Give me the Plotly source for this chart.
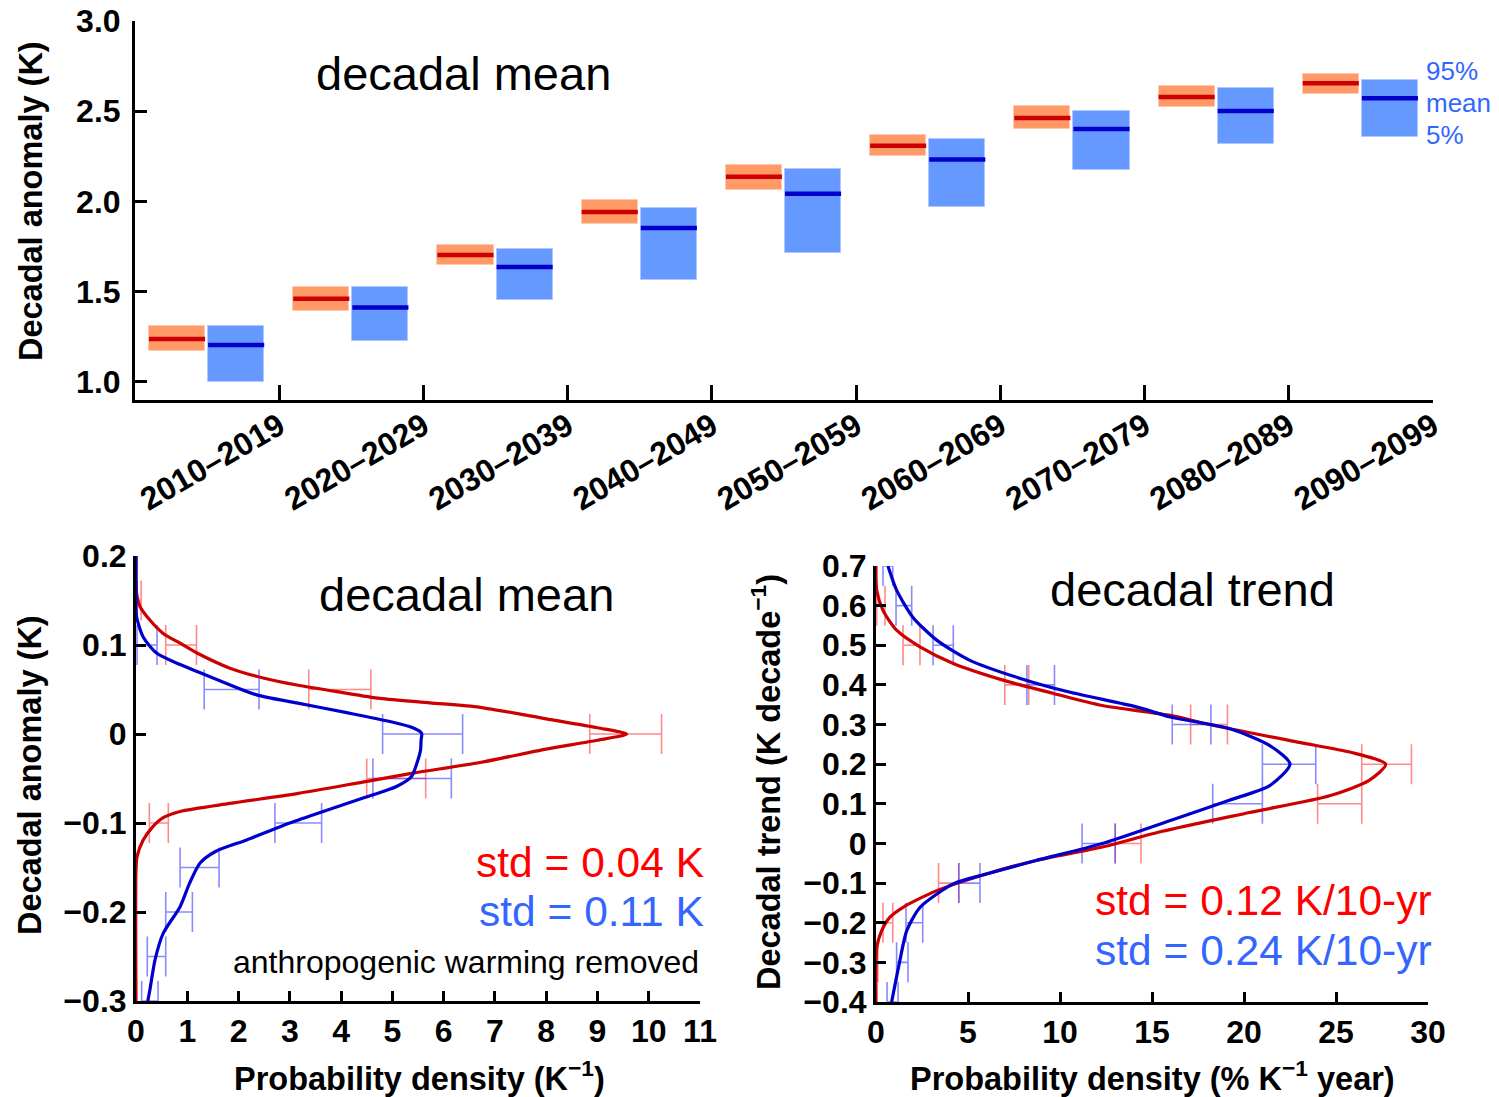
import plotly.graph_objects as go

W, H = 1499, 1097
FONT = "Liberation Sans, Arial, Helvetica, sans-serif"

# ---------------- decadal mean projections (top panel) ----------------
decades = ["2010–2019", "2020–2029", "2030–2039", "2040–2049", "2050–2059",
           "2060–2069", "2070–2079", "2080–2089", "2090–2099"]
forced_p95 = [1.310, 1.528, 1.759, 2.008, 2.202, 2.367, 2.529, 2.640, 2.706]
forced_mean = [1.238, 1.461, 1.704, 1.942, 2.137, 2.309, 2.463, 2.579, 2.655]
forced_p5 = [1.172, 1.395, 1.648, 1.875, 2.062, 2.254, 2.402, 2.524, 2.594]
total_p95 = [1.310, 1.525, 1.737, 1.964, 2.178, 2.346, 2.501, 2.629, 2.673]
total_mean = [1.205, 1.412, 1.637, 1.853, 2.043, 2.232, 2.402, 2.501, 2.572]
total_p5 = [1.000, 1.227, 1.454, 1.565, 1.716, 1.970, 2.175, 2.319, 2.356]

# ---------------- decadal mean PDFs (bottom left) ----------------
mean_red_y = [0.20, 0.17, 0.155, 0.143, 0.128, 0.113, 0.102, 0.091, 0.074, 0.063, 0.055,
              0.047, 0.040, 0.035, 0.030, 0.017, 0.007, 0.0, -0.007, -0.017, -0.032,
              -0.044, -0.054, -0.067, -0.078, -0.087, -0.094, -0.104, -0.119, -0.138,
              -0.153, -0.30]
mean_red_pdf = [0.0, 0.0, 0.02, 0.08, 0.27, 0.53, 0.86, 1.19, 1.83, 2.48, 3.14,
                3.98, 4.76, 5.73, 6.71, 8.0, 9.0, 9.57, 9.0, 8.0, 6.71,
                5.40, 4.42, 3.14, 1.83, 0.86, 0.53, 0.33, 0.14, 0.02,
                0.0, 0.0]
mean_blue_y = [0.20, 0.17, 0.145, 0.132, 0.109, 0.091, 0.078, 0.063, 0.044, 0.035, 0.024,
               0.014, 0.007, 0.001, -0.007, -0.018, -0.029, -0.048, -0.059, -0.072,
               -0.087, -0.100, -0.119, -0.132, -0.145, -0.167, -0.194, -0.224, -0.254,
               -0.288, -0.30]
mean_blue_pdf = [0.0, 0.0, 0.0, 0.01, 0.14, 0.40, 0.86, 1.50, 2.35, 3.13, 4.11,
                 4.95, 5.40, 5.57, 5.56, 5.55, 5.50, 5.37, 5.08, 4.43,
                 3.65, 3.0, 2.16, 1.55, 1.25, 1.05, 0.86, 0.53, 0.37,
                 0.27, 0.23]
mean_red_bar_y = [0.15, 0.10, 0.05, 0.0, -0.05, -0.10]
mean_red_bar_lo = [0.02, 0.58, 3.37, 8.85, 4.50, 0.26]
mean_red_bar_hi = [0.10, 1.18, 4.58, 10.25, 5.65, 0.63]
mean_blue_bar_y = [0.10, 0.05, 0.0, -0.05, -0.10, -0.15, -0.20, -0.25, -0.30]
mean_blue_bar_lo = [0.02, 1.33, 4.81, 4.62, 2.71, 0.86, 0.58, 0.22, 0.11]
mean_blue_bar_hi = [0.41, 2.40, 6.37, 6.15, 3.62, 1.62, 1.10, 0.58, 0.43]

# ---------------- decadal trend PDFs (bottom right) ----------------
trend_red_y = [0.70, 0.639, 0.588, 0.538, 0.496, 0.454, 0.412, 0.379, 0.348, 0.323,
               0.30, 0.255, 0.23, 0.20, 0.159, 0.121, 0.078, 0.03, -0.009, -0.043,
               -0.077, -0.119, -0.161, -0.186, -0.22, -0.262, -0.31, -0.40]
trend_red_pdf = [0.0, 0.04, 0.38, 1.12, 2.39, 4.2, 6.9, 9.6, 12.3, 16.0,
                 18.1, 23.0, 25.8, 27.7, 26.8, 24.7, 20.3, 15.5, 12.3, 8.7,
                 6.0, 3.3, 1.47, 0.76, 0.31, 0.04, 0.0, 0.0]
trend_blue_y = [0.70, 0.639, 0.571, 0.513, 0.462, 0.417, 0.382, 0.344, 0.319, 0.29,
                0.247, 0.20, 0.146, 0.109, 0.058, 0.0, -0.043, -0.077, -0.102, -0.161,
                -0.22, -0.295, -0.40]
trend_blue_pdf = [0.65, 1.12, 2.0, 3.3, 5.1, 7.8, 10.5, 14.2, 16.0, 19.2,
                  21.4, 22.5, 21.4, 19.2, 16.0, 12.3, 8.7, 6.0, 4.2, 2.4,
                  1.67, 1.3, 0.85]
trend_red_bar_y = [0.6, 0.5, 0.4, 0.3, 0.2, 0.1, 0.0, -0.1, -0.2, -0.3]
trend_red_bar_lo = [0.04, 1.47, 7.0, 17.1, 26.4, 24.0, 13.0, 3.4, 0.38, 0.0]
trend_red_bar_hi = [0.49, 2.39, 8.3, 19.1, 29.1, 26.4, 14.4, 4.5, 0.91, 0.1]
trend_blue_bar_y = [0.7, 0.6, 0.5, 0.4, 0.3, 0.2, 0.1, 0.0, -0.1, -0.2, -0.3, -0.4]
trend_blue_bar_lo = [0.38, 1.09, 3.1, 8.2, 16.1, 21.0, 18.3, 11.2, 4.5, 1.63, 1.12, 0.6]
trend_blue_bar_hi = [0.91, 1.94, 4.2, 9.7, 18.2, 23.9, 21.0, 13.0, 5.65, 2.54, 1.74, 1.2]

RED_LINE = "#cc0000"
BLUE_LINE = "#0000cc"
ORANGE_FILL = "#ff9966"
BLUE_FILL = "#6699ff"
RED_TEXT = "#ff0000"
BLUE_TEXT = "#3366ff"
RED_BAR = "rgba(255,60,60,0.6)"
BLUE_BAR = "rgba(60,60,255,0.6)"


def fx(px):
    return px / W


def fy(py):
    return 1 - py / H


fig = go.Figure()

# ---- top panel: 5-95% boxes and means ----
n = len(decades)
slot = list(range(n))
left_lo, left_hi = 0.097, 0.486
right_lo, right_hi = 0.507, 0.896
fig.add_trace(go.Bar(
    x=[i + (left_lo + left_hi) / 2 for i in slot],
    y=[h - l for h, l in zip(forced_p95, forced_p5)], base=forced_p5,
    width=left_hi - left_lo, marker=dict(color=ORANGE_FILL, line=dict(color="#ffc8b0", width=1)),
    xaxis="x", yaxis="y", showlegend=False))
fig.add_trace(go.Bar(
    x=[i + (right_lo + right_hi) / 2 for i in slot],
    y=[h - l for h, l in zip(total_p95, total_p5)], base=total_p5,
    width=right_hi - right_lo, marker=dict(color=BLUE_FILL, line=dict(color="#b0c8ff", width=1)),
    xaxis="x", yaxis="y", showlegend=False))


def segments(means, lo, hi):
    xs, ys = [], []
    for i, m in enumerate(means):
        xs += [i + lo, i + hi, None]
        ys += [m, m, None]
    return xs, ys


sx, sy = segments(forced_mean, left_lo, left_hi)
fig.add_trace(go.Scatter(x=sx, y=sy, mode="lines", line=dict(color=RED_LINE, width=4.5),
                         xaxis="x", yaxis="y", showlegend=False))
sx, sy = segments(total_mean, right_lo, right_hi)
fig.add_trace(go.Scatter(x=sx, y=sy, mode="lines", line=dict(color=BLUE_LINE, width=4.5),
                         xaxis="x", yaxis="y", showlegend=False))


# ---- bottom panels: PDFs with sampling error bars ----
def add_bars(ys, lo, hi, color, xa, ya):
    fig.add_trace(go.Scatter(
        x=[(a + b) / 2 for a, b in zip(lo, hi)], y=ys, mode="markers",
        marker=dict(size=1, color="rgba(0,0,0,0)"),
        error_x=dict(type="data", symmetric=True, array=[(b - a) / 2 for a, b in zip(lo, hi)],
                     color=color, thickness=1.6, width=20),
        xaxis=xa, yaxis=ya, showlegend=False, cliponaxis=False))


def add_curve(ys, xs, color, xa, ya):
    fig.add_trace(go.Scatter(x=xs, y=ys, mode="lines",
                             line=dict(color=color, width=3.2, shape="spline", smoothing=0.7),
                             xaxis=xa, yaxis=ya, showlegend=False))


add_bars(mean_red_bar_y, mean_red_bar_lo, mean_red_bar_hi, RED_BAR, "x2", "y2")
add_bars(mean_blue_bar_y, mean_blue_bar_lo, mean_blue_bar_hi, BLUE_BAR, "x2", "y2")
add_curve(mean_red_y, mean_red_pdf, RED_LINE, "x2", "y2")
add_curve(mean_blue_y, mean_blue_pdf, BLUE_LINE, "x2", "y2")

add_bars(trend_red_bar_y, trend_red_bar_lo, trend_red_bar_hi, RED_BAR, "x3", "y3")
add_bars(trend_blue_bar_y, trend_blue_bar_lo, trend_blue_bar_hi, BLUE_BAR, "x3", "y3")
add_curve(trend_red_y, trend_red_pdf, RED_LINE, "x3", "y3")
add_curve(trend_blue_y, trend_blue_pdf, BLUE_LINE, "x3", "y3")

tickfont = dict(family=FONT, size=32, color="black", weight="bold")
axis_common = dict(showline=True, linecolor="black", linewidth=3, ticks="inside",
                   tickcolor="black", tickwidth=3, showgrid=False, zeroline=False,
                   tickfont=tickfont, mirror=False, fixedrange=True, automargin=False)

fig.update_layout(
    width=W, height=H, margin=dict(l=0, r=0, t=0, b=0, pad=0, autoexpand=False),
    paper_bgcolor="white", plot_bgcolor="white", barmode="overlay", bargap=0,
    font=dict(family=FONT, color="black"),
    xaxis=dict(domain=[fx(135), fx(1433)], range=[0, 9], tickvals=[i + 1 for i in slot],
               ticktext=decades, tickangle=-30, ticklen=15, ticklabelstandoff=-8,
               anchor="y", **axis_common),
    yaxis=dict(domain=[fy(400), fy(21)], range=[0.9, 3.0], tickvals=[1.0, 1.5, 2.0, 2.5, 3.0],
               tickformat=".1f", ticklen=12, ticklabelstandoff=5, anchor="x", **axis_common),
    xaxis2=dict(domain=[fx(136), fx(700)], range=[0, 11], dtick=1, tick0=0, ticklen=10,
                ticklabelstandoff=0, anchor="y2", **axis_common),
    yaxis2=dict(domain=[fy(1001), fy(556)], range=[-0.3, 0.2], dtick=0.1, tick0=0, ticklen=10,
                ticklabelstandoff=0, anchor="x2", **axis_common),
    xaxis3=dict(domain=[fx(876), fx(1428)], range=[0, 30], dtick=5, tick0=0, ticklen=10,
                ticklabelstandoff=0, anchor="y3", **axis_common),
    yaxis3=dict(domain=[fy(1002), fy(566)], range=[-0.4, 0.7], dtick=0.1, tick0=0, ticklen=10,
                ticklabelstandoff=0, anchor="x3", **axis_common),
)


def note(text, px, py, size, color="black", xanchor="center", bold=False, angle=0):
    fig.add_annotation(text=text, x=fx(px), y=fy(py), xref="paper", yref="paper",
                       showarrow=False, xanchor=xanchor, yanchor="middle", textangle=angle,
                       font=dict(family=FONT, size=size, color=color,
                                 weight="bold" if bold else "normal"))


# panel titles
note("decadal mean", 463, 74, 47)
note("decadal mean", 467, 594, 47)
note("decadal trend", 1192, 589, 47)

# box key
note("95%", 1424, 71, 26, BLUE_TEXT, "left")
note("mean", 1424, 103, 26, BLUE_TEXT, "left")
note("5%", 1424, 135, 26, BLUE_TEXT, "left")

# spread statistics
note("std = 0.04 K", 706, 862, 42.5, RED_TEXT, "right")
note("std = 0.11 K", 706, 911, 42.5, BLUE_TEXT, "right")
note("anthropogenic warming removed", 701, 962, 32, "black", "right")
note("std = 0.12 K/10-yr", 1434, 900, 42.5, RED_TEXT, "right")
note("std = 0.24 K/10-yr", 1434, 950, 42.5, BLUE_TEXT, "right")

# axis titles
note("Decadal anomaly (K)", 31, 201, 32.5, bold=True, angle=-90)
note("Decadal anomaly (K)", 30, 775, 32.5, bold=True, angle=-90)
note("Decadal trend (K decade<sup>−1</sup>)", 766, 782, 32.5, bold=True, angle=-90)
note("Probability density (K<sup>−1</sup>)", 419, 1076, 32.5, bold=True)
note("Probability density (% K<sup>−1</sup> year)", 1152, 1076, 32.5, bold=True)

fig.write_html("out.html")
